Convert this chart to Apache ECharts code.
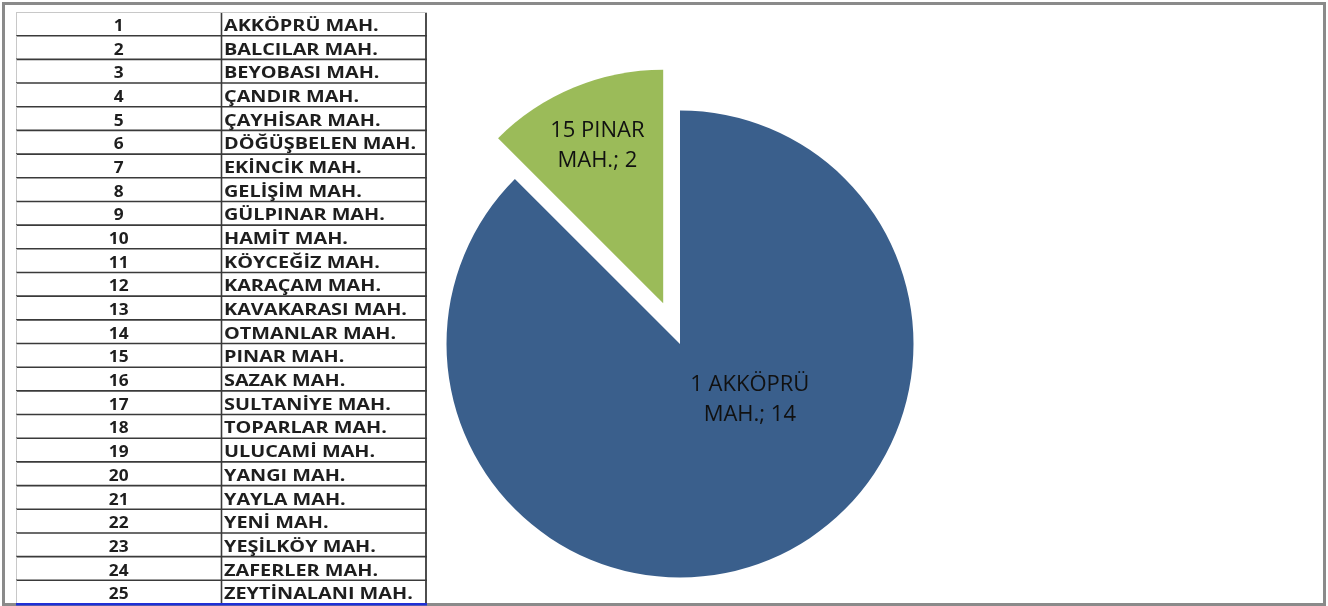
<!DOCTYPE html>
<html>
<head>
<meta charset="utf-8">
<script src="https://cdn.jsdelivr.net/npm/echarts@6/dist/echarts.min.js"></script>
<style>
html,body{margin:0;padding:0;background:#fff;}
#chart{width:1328px;height:606px;}
</style>
</head>
<body>
<div id="chart"></div>
<script>
// ---- data ----
const rowNumbers = ['1','2','3','4','5','6','7','8','9','10','11','12','13','14','15','16','17','18','19','20','21','22','23','24','25'];
const rowNames = ['AKKÖPRÜ MAH.','BALCILAR MAH.','BEYOBASI MAH.','ÇANDIR MAH.','ÇAYHİSAR MAH.','DÖĞÜŞBELEN MAH.','EKİNCİK MAH.','GELİŞİM MAH.','GÜLPINAR MAH.','HAMİT MAH.','KÖYCEĞİZ MAH.','KARAÇAM MAH.','KAVAKARASI MAH.','OTMANLAR MAH.','PINAR MAH.','SAZAK MAH.','SULTANİYE MAH.','TOPARLAR MAH.','ULUCAMİ MAH.','YANGI MAH.','YAYLA MAH.','YENİ MAH.','YEŞİLKÖY MAH.','ZAFERLER MAH.','ZEYTİNALANI MAH.'];
const sliceNames = ['1 AKKÖPRÜ MAH.', '15 PINAR MAH.'];
const sliceValues = [14, 2];

// ---- build ----
const chart = echarts.init(document.getElementById('chart'), null, {renderer: 'canvas'});
const tableData = rowNumbers.map((n, i) => [0, i, n, rowNames[i]]);
const lastRow = rowNumbers.length - 1;

function renderRow(params, api) {
  const idx = api.value(1);
  const c0 = api.coord([0, idx]);
  const c1 = api.coord([1, idx]);
  const c2 = api.coord([2, idx]);
  const h = api.size([0, 1])[1];
  const top = c0[1] - h / 2;
  const bot = c0[1] + h / 2;
  const dark = '#3a3a3a';
  const children = [];
  children.push({type: 'line', shape: {x1: c0[0] + 0.5, y1: top, x2: c0[0] + 0.5, y2: bot}, style: {stroke: '#c8c8c8', lineWidth: 1}});
  children.push({type: 'line', shape: {x1: c1[0], y1: top, x2: c1[0], y2: bot}, style: {stroke: dark, lineWidth: 1.6}});
  children.push({type: 'line', shape: {x1: c2[0] - 1, y1: top, x2: c2[0] - 1, y2: bot}, style: {stroke: dark, lineWidth: 1.8}});
  if (idx === 0) {
    children.push({type: 'line', shape: {x1: c0[0], y1: top + 0.5, x2: c2[0], y2: top + 0.5}, style: {stroke: '#c8c8c8', lineWidth: 1}});
  }
  if (idx === lastRow) {
    children.push({type: 'line', shape: {x1: c0[0], y1: bot + 0.3, x2: c2[0], y2: bot + 0.3}, style: {stroke: '#1f2fd6', lineWidth: 2.6}});
  } else {
    children.push({type: 'line', shape: {x1: c0[0], y1: bot, x2: c2[0], y2: bot}, style: {stroke: dark, lineWidth: 1.6}});
  }
  children.push({type: 'text', x: (c0[0] + c1[0]) / 2, y: c0[1] + 2.5, scaleX: 1.08,
    style: {text: api.value(2), align: 'center', verticalAlign: 'middle', fill: '#1e1e1e', font: 'bold 16px "Open Sans"'}});
  children.push({type: 'text', x: c1[0] + 2.5, y: c0[1] + 2.5, scaleX: 1.24,
    style: {text: api.value(3), align: 'left', verticalAlign: 'middle', fill: '#1e1e1e', font: 'bold 16px "Open Sans"'}});
  return {type: 'group', children: children};
}

const labelShift = [[24, -55], [-20, -47]];

const option = {
  animation: false,
  backgroundColor: '#ffffff',
  grid: {left: 16, top: 12, right: 901, bottom: 2, containLabel: false},
  xAxis: {type: 'value', min: 0, max: 2, show: false},
  yAxis: {type: 'category', inverse: true, show: false, data: rowNumbers.map((n, i) => i)},
  graphic: [{
    type: 'rect', silent: true, z: 0,
    shape: {x: 3.5, y: 3.5, width: 1321, height: 601},
    style: {fill: 'none', stroke: '#8a8a8a', lineWidth: 3}
  }],
  series: [
    {
      type: 'custom',
      coordinateSystem: 'cartesian2d',
      data: tableData,
      renderItem: renderRow,
      silent: true,
      z: 5
    },
    {
      type: 'pie',
      center: [680, 344],
      radius: 233.5,
      startAngle: 90,
      clockwise: true,
      selectedMode: 'single',
      selectedOffset: 44,
      silent: true,
      itemStyle: {borderWidth: 0},
      label: {
        show: true,
        position: 'inside',
        color: '#111',
        fontFamily: 'Open Sans',
        fontSize: 22,
        lineHeight: 30,
        align: 'center',
        formatter: function (p) {
          const k = p.name.lastIndexOf(' ');
          return p.name.slice(0, k) + '\n' + p.name.slice(k + 1) + '; ' + p.value;
        }
      },
      labelLine: {show: false},
      labelLayout: function (p) {
        const s = labelShift[p.dataIndex];
        return {dx: s[0], dy: s[1]};
      },
      emphasis: {disabled: true},
      data: sliceNames.map((n, i) => ({
        name: n,
        value: sliceValues[i],
        selected: i === 1,
        itemStyle: {color: i === 0 ? '#3a5f8c' : '#9bbb59'}
      }))
    }
  ]
};
chart.setOption(option);
</script>
</body>
</html>
